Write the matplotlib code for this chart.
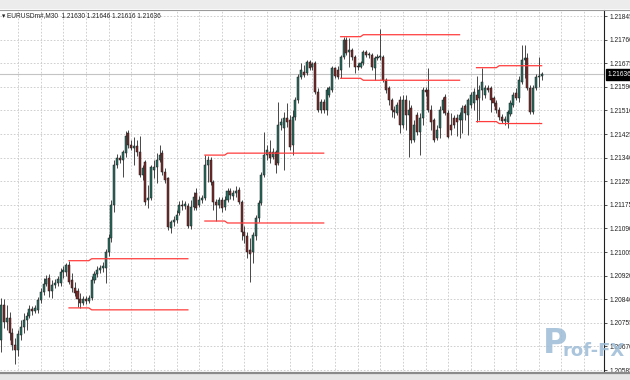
import matplotlib
matplotlib.use("Agg")
import matplotlib.pyplot as plt
import numpy as np
from matplotlib.patches import Rectangle

# EURUSDm#, M30 bars
opens = [
    1.20685, 1.20810, 1.20749, 1.20764, 1.20710, 1.20667, 1.20649, 1.20703, 1.20731, 1.20756,
    1.20771, 1.20796, 1.20789, 1.20792, 1.20828, 1.20857, 1.20885, 1.20907, 1.20860, 1.20882,
    1.20889, 1.20889, 1.20928, 1.20928, 1.20953, 1.20900, 1.20871, 1.20860, 1.20832, 1.20817,
    1.20832, 1.20824, 1.20835, 1.20900, 1.20921, 1.20935, 1.20943, 1.20943, 1.21000, 1.21050,
    1.21168, 1.21311, 1.21336, 1.21329, 1.21354, 1.21426, 1.21383, 1.21372, 1.21379, 1.21358,
    1.21276, 1.21322, 1.21186, 1.21193, 1.21293, 1.21304, 1.21329, 1.21354, 1.21286, 1.21265,
    1.21086, 1.21107, 1.21114, 1.21139, 1.21168, 1.21165, 1.21165, 1.21093, 1.21161, 1.21211,
    1.21168, 1.21186, 1.21193, 1.21311, 1.21329, 1.21250, 1.21179, 1.21168, 1.21186, 1.21161,
    1.21186, 1.21218, 1.21200, 1.21211, 1.21222, 1.21179, 1.21071, 1.21057, 1.21007, 1.21000,
    1.21057, 1.21122, 1.21175, 1.21276, 1.21347, 1.21358, 1.21340, 1.21358, 1.21318, 1.21454,
    1.21444, 1.21480, 1.21472, 1.21383, 1.21483, 1.21544, 1.21626, 1.21644, 1.21641, 1.21680,
    1.21662, 1.21676, 1.21573, 1.21508, 1.21537, 1.21508, 1.21562, 1.21580, 1.21659, 1.21651,
    1.21651, 1.21698, 1.21759, 1.21716, 1.21723, 1.21698, 1.21666, 1.21662, 1.21676, 1.21716,
    1.21705, 1.21705, 1.21659, 1.21694, 1.21698, 1.21698, 1.21616, 1.21587, 1.21544, 1.21508,
    1.21497, 1.21544, 1.21454, 1.21544, 1.21490, 1.21515, 1.21401, 1.21490, 1.21429, 1.21480,
    1.21580, 1.21580, 1.21508, 1.21472, 1.21408, 1.21444, 1.21508, 1.21555, 1.21497, 1.21454,
    1.21480, 1.21480, 1.21472, 1.21472, 1.21523, 1.21490, 1.21526, 1.21533, 1.21562, 1.21551,
    1.21580, 1.21562, 1.21587, 1.21587, 1.21551, 1.21533, 1.21508, 1.21483, 1.21469, 1.21465,
    1.21494, 1.21526, 1.21569, 1.21551, 1.21608, 1.21687, 1.21694, 1.21587, 1.21501, 1.21587,
    1.21626, 1.21630,
]
highs = [
    1.20835, 1.20832, 1.20810, 1.20785, 1.20728, 1.20692, 1.20721, 1.20756, 1.20781, 1.20785,
    1.20810, 1.20807, 1.20810, 1.20839, 1.20871, 1.20907, 1.20918, 1.20921, 1.20900, 1.20903,
    1.20914, 1.20943, 1.20950, 1.20960, 1.20969, 1.20925, 1.20892, 1.20871, 1.20853, 1.20842,
    1.20842, 1.20846, 1.20914, 1.20932, 1.20950, 1.20953, 1.20964, 1.21011, 1.21064, 1.21186,
    1.21329, 1.21351, 1.21347, 1.21365, 1.21433, 1.21437, 1.21401, 1.21412, 1.21401, 1.21415,
    1.21311, 1.21329, 1.21240, 1.21311, 1.21329, 1.21354, 1.21383, 1.21365, 1.21301, 1.21268,
    1.21114, 1.21129, 1.21150, 1.21182, 1.21186, 1.21182, 1.21175, 1.21186, 1.21215, 1.21229,
    1.21200, 1.21204, 1.21347, 1.21345, 1.21340, 1.21258, 1.21190, 1.21197, 1.21197, 1.21200,
    1.21229, 1.21229, 1.21222, 1.21236, 1.21233, 1.21186, 1.21093, 1.21071, 1.21050, 1.21071,
    1.21132, 1.21186, 1.21286, 1.21429, 1.21383, 1.21401, 1.21372, 1.21365, 1.21537, 1.21480,
    1.21501, 1.21533, 1.21490, 1.21508, 1.21555, 1.21637, 1.21676, 1.21669, 1.21687, 1.21687,
    1.21680, 1.21684, 1.21587, 1.21548, 1.21548, 1.21591, 1.21594, 1.21666, 1.21662, 1.21666,
    1.21705, 1.21770, 1.21771, 1.21766, 1.21730, 1.21705, 1.21676, 1.21684, 1.21723, 1.21723,
    1.21716, 1.21712, 1.21702, 1.21709, 1.21798, 1.21705, 1.21623, 1.21594, 1.21551, 1.21523,
    1.21537, 1.21558, 1.21562, 1.21562, 1.21544, 1.21526, 1.21472, 1.21501, 1.21497, 1.21591,
    1.21591, 1.21659, 1.21526, 1.21480, 1.21454, 1.21523, 1.21555, 1.21566, 1.21508, 1.21497,
    1.21490, 1.21494, 1.21501, 1.21526, 1.21530, 1.21551, 1.21573, 1.21587, 1.21630, 1.21598,
    1.21660, 1.21598, 1.21598, 1.21594, 1.21558, 1.21544, 1.21519, 1.21494, 1.21487, 1.21508,
    1.21544, 1.21573, 1.21587, 1.21630, 1.21741, 1.21741, 1.21712, 1.21598, 1.21598, 1.21637,
    1.21698, 1.21646,
]
lows = [
    1.20642, 1.20728, 1.20721, 1.20685, 1.20649, 1.20599, 1.20628, 1.20685, 1.20710, 1.20721,
    1.20764, 1.20774, 1.20781, 1.20781, 1.20817, 1.20846, 1.20878, 1.20839, 1.20835, 1.20871,
    1.20878, 1.20878, 1.20907, 1.20914, 1.20885, 1.20857, 1.20842, 1.20803, 1.20800, 1.20810,
    1.20814, 1.20817, 1.20828, 1.20889, 1.20910, 1.20925, 1.20928, 1.20889, 1.20986, 1.21036,
    1.21143, 1.21301, 1.21318, 1.21268, 1.21340, 1.21372, 1.21365, 1.21311, 1.21344, 1.21268,
    1.21258, 1.21168, 1.21157, 1.21186, 1.21265, 1.21247, 1.21322, 1.21276, 1.21247, 1.21079,
    1.21068, 1.21093, 1.21104, 1.21132, 1.21150, 1.21154, 1.21086, 1.21082, 1.21150, 1.21150,
    1.21161, 1.21175, 1.21186, 1.21250, 1.21240, 1.21150, 1.21111, 1.21157, 1.21143, 1.21150,
    1.21179, 1.21190, 1.21186, 1.21197, 1.21172, 1.21043, 1.21032, 1.20978, 1.20892, 1.20960,
    1.21043, 1.21107, 1.21168, 1.21268, 1.21329, 1.21318, 1.21333, 1.21283, 1.21311, 1.21437,
    1.21293, 1.21447, 1.21365, 1.21347, 1.21472, 1.21533, 1.21619, 1.21626, 1.21634, 1.21651,
    1.21651, 1.21566, 1.21501, 1.21497, 1.21497, 1.21490, 1.21555, 1.21573, 1.21623, 1.21619,
    1.21622, 1.21691, 1.21705, 1.21662, 1.21687, 1.21641, 1.21651, 1.21659, 1.21669, 1.21698,
    1.21694, 1.21651, 1.21616, 1.21687, 1.21687, 1.21608, 1.21569, 1.21526, 1.21483, 1.21480,
    1.21490, 1.21426, 1.21444, 1.21437, 1.21340, 1.21390, 1.21394, 1.21419, 1.21347, 1.21454,
    1.21558, 1.21501, 1.21437, 1.21394, 1.21401, 1.21408, 1.21497, 1.21490, 1.21408, 1.21419,
    1.21444, 1.21415, 1.21408, 1.21426, 1.21472, 1.21419, 1.21515, 1.21508, 1.21467, 1.21472,
    1.21544, 1.21551, 1.21573, 1.21501, 1.21523, 1.21497, 1.21472, 1.21462, 1.21454, 1.21444,
    1.21487, 1.21519, 1.21544, 1.21537, 1.21601, 1.21623, 1.21580, 1.21494, 1.21494, 1.21580,
    1.21591, 1.21616,
]
closes = [
    1.20810, 1.20749, 1.20764, 1.20710, 1.20667, 1.20649, 1.20706, 1.20731, 1.20756, 1.20771,
    1.20796, 1.20789, 1.20799, 1.20828, 1.20857, 1.20885, 1.20903, 1.20860, 1.20882, 1.20889,
    1.20903, 1.20928, 1.20935, 1.20953, 1.20892, 1.20871, 1.20853, 1.20832, 1.20817, 1.20832,
    1.20824, 1.20835, 1.20900, 1.20921, 1.20935, 1.20943, 1.20950, 1.21000, 1.21050, 1.21168,
    1.21311, 1.21336, 1.21329, 1.21358, 1.21415, 1.21383, 1.21372, 1.21379, 1.21358, 1.21276,
    1.21301, 1.21179, 1.21193, 1.21304, 1.21304, 1.21329, 1.21347, 1.21286, 1.21258, 1.21089,
    1.21107, 1.21114, 1.21132, 1.21168, 1.21165, 1.21172, 1.21093, 1.21161, 1.21197, 1.21157,
    1.21186, 1.21193, 1.21311, 1.21329, 1.21250, 1.21179, 1.21168, 1.21186, 1.21157, 1.21186,
    1.21218, 1.21204, 1.21211, 1.21218, 1.21179, 1.21071, 1.21057, 1.21000, 1.20993, 1.21061,
    1.21122, 1.21175, 1.21276, 1.21347, 1.21365, 1.21336, 1.21358, 1.21311, 1.21454, 1.21465,
    1.21480, 1.21465, 1.21376, 1.21483, 1.21544, 1.21626, 1.21651, 1.21634, 1.21680, 1.21659,
    1.21673, 1.21573, 1.21508, 1.21537, 1.21508, 1.21580, 1.21587, 1.21659, 1.21630, 1.21626,
    1.21698, 1.21759, 1.21712, 1.21723, 1.21698, 1.21662, 1.21662, 1.21676, 1.21716, 1.21705,
    1.21709, 1.21662, 1.21694, 1.21698, 1.21702, 1.21616, 1.21580, 1.21544, 1.21508, 1.21501,
    1.21526, 1.21454, 1.21544, 1.21490, 1.21508, 1.21401, 1.21454, 1.21429, 1.21480, 1.21580,
    1.21573, 1.21508, 1.21465, 1.21401, 1.21437, 1.21508, 1.21544, 1.21497, 1.21412, 1.21437,
    1.21454, 1.21465, 1.21490, 1.21515, 1.21497, 1.21544, 1.21562, 1.21573, 1.21544, 1.21580,
    1.21608, 1.21587, 1.21580, 1.21544, 1.21533, 1.21508, 1.21483, 1.21469, 1.21476, 1.21501,
    1.21533, 1.21562, 1.21551, 1.21616, 1.21687, 1.21694, 1.21587, 1.21501, 1.21587, 1.21626,
    1.21630, 1.21636,
]

# daily range lines: first bar of each session, range high/low of the first 8 bars
day_start = [24, 72, 120, 168]
range_high = [1.20969, 1.21347, 1.21771, 1.21660]
range_low = [1.20800, 1.21111, 1.21622, 1.21467]
breakout_buffer = 0.00007

ytick_labels = ["1.21845", "1.21760", "1.21675", "1.21590", "1.21510", "1.21425",
                "1.21340", "1.21255", "1.21175", "1.21090", "1.21005", "1.20920",
                "1.20840", "1.20755", "1.20670", "1.20585"]
symbol = "EURUSDm#,M30"
header_ohlc = "1.21630 1.21646 1.21616 1.21636"
last_price = "1.21636"

bull = "#2a6e62"
bear = "#7e2a2a"
label_font = ["Liberation Sans", "DejaVu Sans"]

fig = plt.figure(figsize=(6.3, 3.8), dpi=100)
fig.patch.set_facecolor("white")
ax = fig.add_axes([0, 7 / 380, 604 / 630, 363 / 380])

o = np.array(opens)
h = np.array(highs)
l = np.array(lows)
c = np.array(closes)
x = np.arange(len(c))
up = c >= o

ax.vlines(x, l, h, color="#2a2a2a", linewidth=0.6, zorder=3)
ax.bar(x[up], (c - o)[up], bottom=o[up], width=0.72, color=bull,
       edgecolor="#1a1a1a", linewidth=0.35, zorder=4)
ax.bar(x[~up], (c - o)[~up], bottom=o[~up], width=0.72, color=bear,
       edgecolor="#1a1a1a", linewidth=0.35, zorder=4)

# session range / breakout lines
for s, rh, rl in zip(day_start, range_high, range_low):
    end = min(s + 42, len(c) - 1)
    xs = [s, s + 7, s + 8, end]
    ax.plot(xs, [rh, rh, rh + breakout_buffer, rh + breakout_buffer],
            color="#ff3c3c", linewidth=0.9, zorder=5)
    ax.plot(xs, [rl, rl, rl - breakout_buffer, rl - breakout_buffer],
            color="#ff3c3c", linewidth=0.9, zorder=5)

# current price line
ax.axhline(float(last_price), color="#c4c4c4", linewidth=0.8, zorder=1)

ax.set_xlim(-0.39, 213.04)
ax.set_ylim(1.205669, 1.218665)

yt = 1.21845 - 0.000845 * np.arange(len(ytick_labels))
ax.set_yticks(yt)
ax.set_yticklabels(ytick_labels, family=label_font)
ax.yaxis.tick_right()
ax.tick_params(axis="y", direction="out", length=2.5, width=0.6, color="#333333",
               labelsize=4.8, pad=1.5, labelcolor="#222222")
ax.set_xticks(np.arange(6, 213, 8))
ax.tick_params(axis="x", length=0, labelbottom=False)
ax.grid(True, linestyle=(0, (2, 2)), color="#c8c8c8", linewidth=0.6, zorder=0)

for side in ["left", "top", "bottom"]:
    ax.spines[side].set_visible(False)
ax.spines["right"].set_color("#202020")
ax.spines["right"].set_linewidth(0.8)

# window chrome top / bottom
fig.patches.append(Rectangle((0, 1 - 9 / 380), 1, 9 / 380, transform=fig.transFigure,
                             facecolor="#ececec", edgecolor="none", zorder=0))
fig.lines.append(plt.Line2D([0, 1], [1 - 10 / 380, 1 - 10 / 380], transform=fig.transFigure,
                            color="#9a9a9a", linewidth=0.8))
fig.patches.append(Rectangle((0, 0), 1, 6 / 380, transform=fig.transFigure,
                             facecolor="#e6e6e6", edgecolor="none", zorder=0))
fig.lines.append(plt.Line2D([0, 1], [7 / 380, 7 / 380], transform=fig.transFigure,
                            color="#8a8a8a", linewidth=1.6))

# header
fig.text(2 / 630, 1 - 16 / 380, "\u25be " + symbol + "  " + header_ohlc,
         fontsize=4.7, family=label_font, color="#222222", va="center", ha="left")

# last price tag
ax.annotate(last_price, xy=(1.0, float(last_price)), xycoords=("axes fraction", "data"),
            xytext=(2.5, 0), textcoords="offset points", fontsize=4.8, family=label_font,
            color="white", va="center", ha="left",
            bbox=dict(boxstyle="square,pad=0.25", facecolor="black", edgecolor="black"))

# watermark
fig.text(543 / 630, 1 - 353 / 380, "P", fontsize=24, fontweight="bold", color="#9dbcd6",
         alpha=0.85, ha="left", va="baseline")
fig.text(563 / 630, 1 - 356 / 380, "rof-FX", fontsize=13, fontweight="bold",
         color="#9dbcd6", alpha=0.85, ha="left", va="baseline")

fig.savefig("out.png", dpi=100)
